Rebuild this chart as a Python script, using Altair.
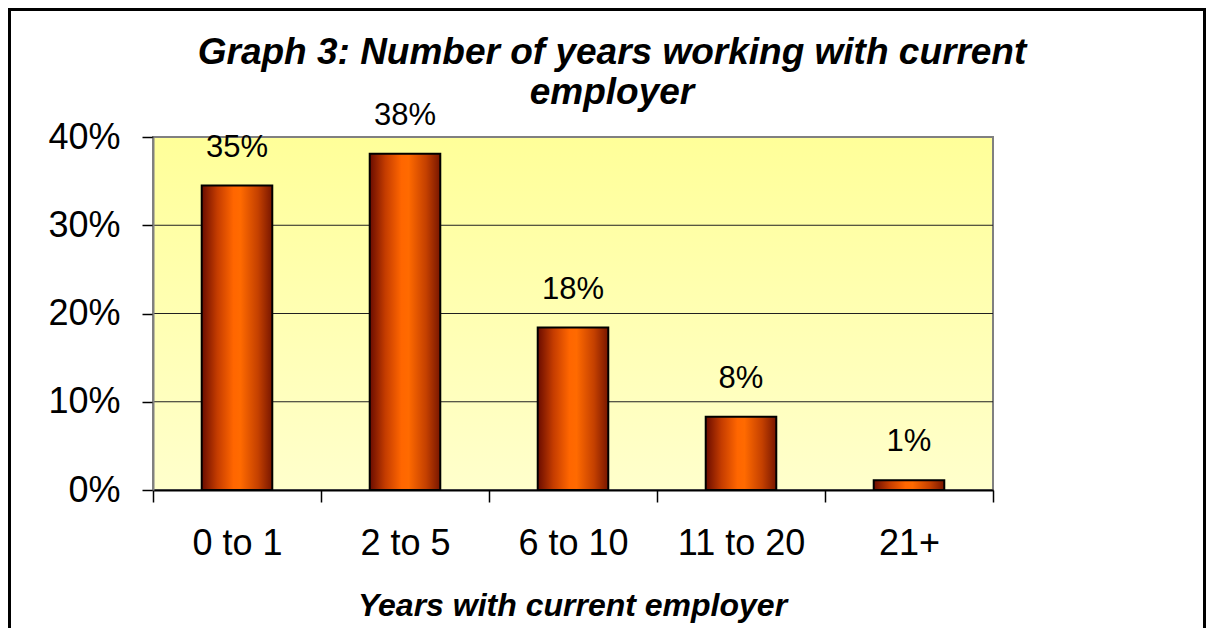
import altair as alt
import pandas as pd

# ---- data ----
categories = ["0 to 1", "2 to 5", "6 to 10", "11 to 20", "21+"]
shares = [0.345, 0.381, 0.184, 0.083, 0.011]
share_labels = ["35%", "38%", "18%", "8%", "1%"]
y_ticks = [0, 0.1, 0.2, 0.3, 0.4]
grid_values = [0.1, 0.2, 0.3]
title_lines = ["Graph 3: Number of years working with current", "employer"]
x_title = "Years with current employer"

W, H = 840, 353
FONT = "Liberation Sans"

df = pd.DataFrame({"cat": categories, "share": shares, "label": share_labels})
grid_df = pd.DataFrame({"v": grid_values})
one = pd.DataFrame({"k": [0]})

y_scale = alt.Scale(domain=[0, 0.4], nice=False)
y_axis = alt.Axis(values=y_ticks, format=".0%", title=None, grid=False,
                  labelFontSize=36, labelFont=FONT, labelColor="black",
                  labelPadding=22, tickSize=11, tickColor="black", tickWidth=1.5,
                  domainColor="#808080", domainWidth=2, zindex=1)
x_enc = alt.X("cat:N", sort=categories,
              scale=alt.Scale(paddingInner=0, paddingOuter=0),
              axis=alt.Axis(title=x_title, tickBand="extent", labelAngle=0,
                            labelFontSize=36, labelFont=FONT, labelColor="black",
                            labelPadding=24, tickSize=12, tickColor="black", tickWidth=1.5,
                            domainColor="black", domainWidth=2,
                            titleFont=FONT, titleFontSize=32, titleFontStyle="italic",
                            titleFontWeight="bold", titleColor="black",
                            titleX=W / 2 - 1, titleY=125, titleBaseline="alphabetic",
                            grid=False, zindex=1))

bg_grad = alt.Gradient(gradient="linear", x1=0, x2=0, y1=0, y2=1,
                       stops=[alt.GradientStop(color="#ffff99", offset=0),
                              alt.GradientStop(color="#ffffcc", offset=1)])
bar_grad = alt.Gradient(gradient="linear", x1=0, x2=1, y1=0, y2=0,
                        stops=[alt.GradientStop(color="#6a0c00", offset=0),
                               alt.GradientStop(color="#c43c00", offset=0.22),
                               alt.GradientStop(color="#ff6600", offset=0.45),
                               alt.GradientStop(color="#ff6a00", offset=0.55),
                               alt.GradientStop(color="#c44000", offset=0.8),
                               alt.GradientStop(color="#781600", offset=1)])

background = alt.Chart(one).mark_rect(fill=bg_grad, stroke="#808080", strokeWidth=2).encode(
    x=alt.value(0), x2=alt.value(W), y=alt.value(0), y2=alt.value(H))

grid = alt.Chart(grid_df).mark_rule(color="#202020", strokeWidth=1).encode(
    y=alt.Y("v:Q", scale=y_scale, axis=y_axis))

bars = alt.Chart(df).mark_bar(width=alt.RelativeBandSize(0.42), fill=bar_grad,
                              stroke="black", strokeWidth=2).encode(
    x=x_enc, y=alt.Y("share:Q", scale=y_scale, axis=y_axis))

labels = alt.Chart(df).mark_text(fontSize=31, font=FONT, baseline="alphabetic",
                                 dy=-29, color="black").encode(
    x=x_enc, y=alt.Y("share:Q", scale=y_scale, axis=y_axis), text="label:N")

title = alt.Chart(one).mark_text(text=title_lines, font=FONT, fontSize=37,
                                 fontStyle="italic", fontWeight="bold", lineHeight=40,
                                 baseline="alphabetic", align="center", color="black").encode(
    x=alt.value(459), y=alt.value(-73))

border = alt.Chart(one).mark_rect(filled=False, stroke="black", strokeWidth=3).encode(
    x=alt.value(-143.5), x2=alt.value(1051.5), y=alt.value(-127.5), y2=alt.value(700))

chart = alt.layer(background, grid, bars, labels, title, border).properties(
    width=W, height=H,
    autosize=alt.AutoSizeParams(type="none"),
    padding={"left": 145, "top": 129, "right": 213, "bottom": 138},
    background="white",
).configure_view(strokeWidth=0)

chart.save("out.html", embed_options={"renderer": "svg", "actions": False})
